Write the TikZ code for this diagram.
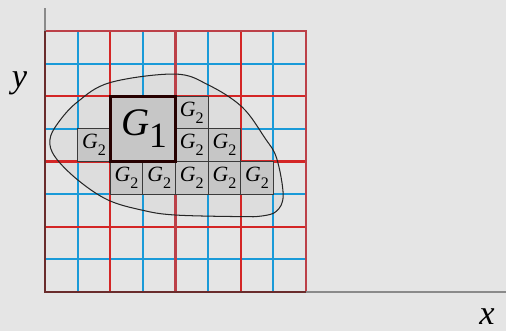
\documentclass[tikz,border=0pt]{standalone}
\usepackage{fontspec}
\setmainfont{Liberation Serif}
\definecolor{bg}{HTML}{E5E5E5}
\definecolor{blobfill}{HTML}{DDDDDD}
\definecolor{gridred}{HTML}{D42626}
\definecolor{gridredd}{HTML}{BC4048}
\definecolor{gridblue}{HTML}{1A9AD8}
\definecolor{axisbrown}{HTML}{6A2C2C}
\definecolor{axisgray}{HTML}{8A8A8A}
\definecolor{cellfill}{HTML}{C6C6C6}
\definecolor{celledge}{HTML}{3A3A3A}
\tikzset{
  redline/.style={draw=gridred,line width=1.9pt},
  blueline/.style={draw=gridblue,line width=1.9pt},
  gtwo/.style={rectangle,fill=cellfill,draw=celledge,line width=0.9pt,minimum size=1cm,inner sep=0pt,font=\fontsize{19}{19}\selectfont},
  gone/.style={rectangle,fill=cellfill,draw=black!85!red,line width=2.6pt,minimum size=2cm,inner sep=0pt,font=\fontsize{34}{34}\selectfont},
  axlabel/.style={inner sep=0pt,font=\fontsize{30}{30}\selectfont\itshape}
}
\newcommand{\Gtwo}{\textit{G}\raisebox{-0.32em}{\fontsize{14}{14}\selectfont 2}}
\begin{document}
\begin{tikzpicture}[x=1cm,y=1cm]
\useasboundingbox[fill=bg] (-1.379,-1.195) rectangle (14.130,8.950);
% region
\fill[blobfill] plot[smooth cycle,tension=0.6] coordinates {
 (0.15,4.66) (0.40,5.18) (1.0,5.83) (2.0,6.42) (3.98,6.68) (5.0,6.35)
 (6.04,5.67) (6.74,4.72) (7.1,4.1) (7.3,2.97) (7.1,2.48) (6.65,2.33)
 (6.04,2.31) (3.98,2.36) (2.97,2.51) (1.93,2.82) (1.01,3.43) (0.31,4.14)};
% blue grid lines
\draw[blueline] (1,0) -- (1,8);
\draw[blueline] (3,0) -- (3,8);
\draw[blueline] (5,0) -- (5,8);
\draw[blueline] (7,0) -- (7,8);
\draw[blueline] (0,1) -- (8,1);
\draw[blueline] (0,3) -- (8,3);
\draw[blueline] (0,5) -- (8,5);
\draw[blueline] (0,7) -- (8,7);
% red grid lines
\draw[redline] (2,0) -- (2,8);
\draw[redline] (6,0) -- (6,8);
\draw[redline] (0,2) -- (8,2);
\draw[redline] (0,4) -- (8,4);
\draw[redline] (0,6) -- (8,6);
\draw[redline,draw=gridredd] (4,0) -- (4,8);
\draw[redline,draw=gridredd] (0,8) -- (8,8) -- (8,0);
% axes
\draw[axisgray,line width=1.4pt] (0,8) -- (0,8.705);
\draw[axisgray,line width=1.4pt] (8,0) -- (14.130,0);
\draw[axisbrown,line width=1.9pt] (0,8) -- (0,0) -- (8,0);
% region outline
\draw[black!85,line width=0.9pt] plot[smooth cycle,tension=0.6] coordinates {
 (0.15,4.66) (0.40,5.18) (1.0,5.83) (2.0,6.42) (3.98,6.68) (5.0,6.35)
 (6.04,5.67) (6.74,4.72) (7.1,4.1) (7.3,2.97) (7.1,2.48) (6.65,2.33)
 (6.04,2.31) (3.98,2.36) (2.97,2.51) (1.93,2.82) (1.01,3.43) (0.31,4.14)};
% cells
\node[gtwo] (a1) at (4.5,5.5) {\Gtwo};
\node[gtwo] (b1) at (1.5,4.5) {\Gtwo};
\node[gtwo] (b2) at (4.5,4.5) {\Gtwo};
\node[gtwo] (b3) at (5.5,4.5) {\Gtwo};
\node[gtwo] (c1) at (2.5,3.5) {\Gtwo};
\node[gtwo] (c2) at (3.5,3.5) {\Gtwo};
\node[gtwo] (c3) at (4.5,3.5) {\Gtwo};
\node[gtwo] (c4) at (5.5,3.5) {\Gtwo};
\node[gtwo] (c5) at (6.5,3.5) {\Gtwo};
\node[gone] (g1) at (3,5) {\hspace{2pt}\textit{G}\raisebox{-0.3em}{\fontsize{31}{31}\selectfont 1}};
% axis labels
\node[axlabel] (ylab) at (-0.78,6.40) {y};
\node[axlabel] (xlab) at (13.55,-0.76) {x};
\end{tikzpicture}
\end{document}
